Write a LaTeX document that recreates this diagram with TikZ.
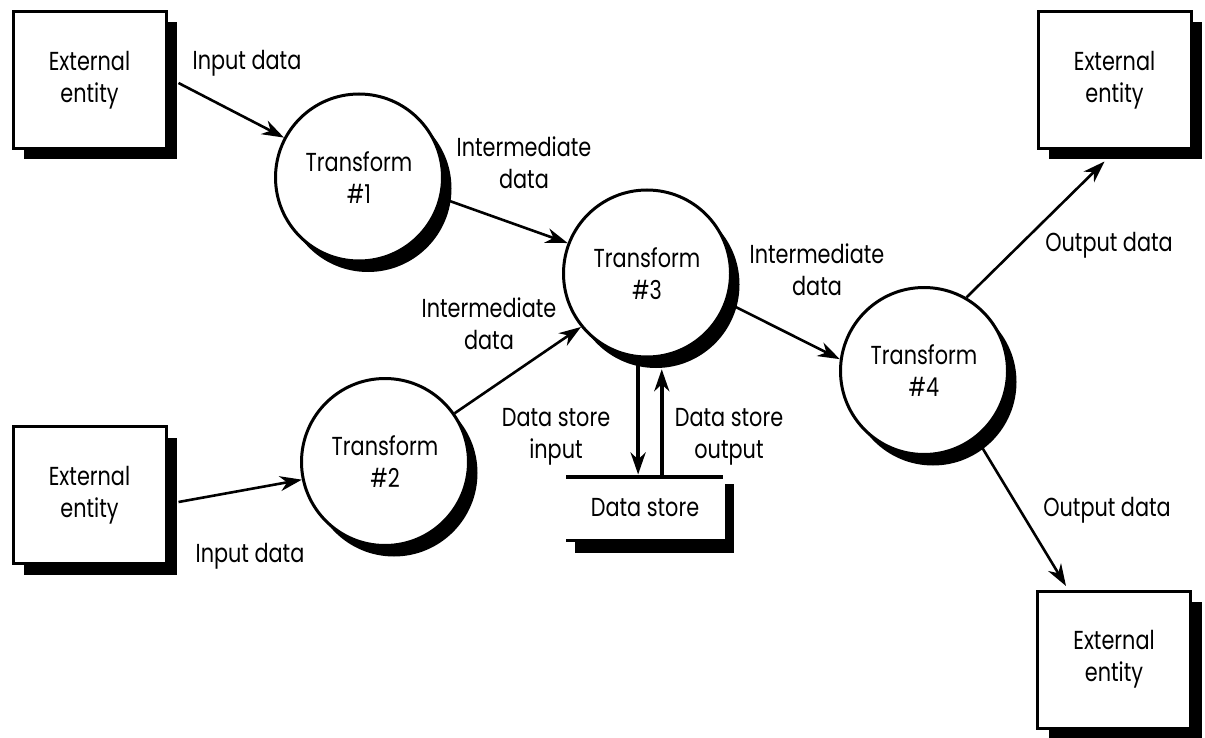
\documentclass[tikz,border=0pt]{standalone}
\usepackage{fontspec}
\setmainfont{Poppins}[FakeStretch=0.8]
\usetikzlibrary{arrows.meta,shadows}

\tikzset{
  entity/.style={draw, line width=3pt, fill=white, minimum width=153pt, minimum height=137pt,
    align=center, inner sep=0pt,
    general shadow={fill=black, shadow xshift=11pt, shadow yshift=-11pt}},
  process/.style={draw, circle, line width=3pt, fill=white, minimum size=167pt,
    align=center, inner sep=0pt,
    general shadow={fill=black, shadow xshift=9pt, shadow yshift=-11pt}},
  lbl/.style={align=center, inner sep=0pt},
  flow/.style={line width=2.6pt, -{Stealth[length=22pt,width=15pt,inset=7pt]}},
  storeflow/.style={line width=4pt, -{Stealth[length=22pt,width=15pt,inset=7pt]}},
}

\begin{document}
\begin{tikzpicture}[x=1pt, y=-1pt, font=\fontsize{26}{32}\selectfont]
\useasboundingbox (0,0) rectangle (1205,738);

% external entities
\node[entity] (b1) at (89.5,80)   {External\\entity};
\node[entity] (b2) at (89.5,495)  {External\\entity};
\node[entity] (b3) at (1114.5,80) {External\\entity};
\node[entity] (b4) at (1114,659.5){External\\entity};

% transforms
\node[process] (t1) at (359,177.5) {Transform\\\#1};
\node[process] (t2) at (385,462)   {Transform\\\#2};
\node[process] (t3) at (647,273.5) {Transform\\\#3};
\node[process] (t4) at (924,371)   {Transform\\\#4};

% data store
\coordinate (dsTL) at (566,477);
\coordinate (dsTR) at (723,477);
\coordinate (dsBL) at (566,540);
\coordinate (dsBR) at (725,540);
\fill (725,484) rectangle (734,553);
\fill (575,541) rectangle (734,553);
\draw[line width=3pt] (dsBL) -- (dsBR);
\draw[line width=4.5pt] (dsTL) -- (dsTR);
\node[lbl] (ds) at (645,508) {Data store};

% flows
\draw[flow] ([xshift=11pt,yshift=-3pt]b1.east) -- (t1.152);
\draw[flow] ([xshift=11pt,yshift=-7pt]b2.east) -- (t2.192);
\draw[flow] (t1.-14) -- (t3.159);
\draw[flow] (t2.35) -- (t3.219);
\draw[flow] (t3.-20) -- (t4.172);
\draw[flow] (t4.60) -- ([xshift=-10pt,yshift=-11.5pt]b3.south);
\draw[flow] (t4.-52.5) -- ([xshift=-48pt,yshift=3.5pt]b4.north);
\draw[storeflow, shorten >=2.5pt] (t3.-96) -- (t3.-96 |- dsTL);
\draw[storeflow, shorten >=12pt] (t3.-80 |- dsTL) -- (t3.-80);

% flow labels
\node[lbl] (l1) at (247,63)  {Input data};
\node[lbl] (l2) at (250,556) {Input data};
\node[lbl] (l3) at (524,163) {Intermediate\\data};
\node[lbl] (l4) at (489,324) {Intermediate\\data};
\node[lbl] (l5) at (817,270) {Intermediate\\data};
\node[lbl] (l6) at (556,437) {Data store\\input};
\node[lbl] (l7) at (729,437) {Data store\\output};
\node[lbl] (l8) at (1109,245) {Output data};
\node[lbl] (l9) at (1107,510) {Output data};
\end{tikzpicture}
\end{document}
